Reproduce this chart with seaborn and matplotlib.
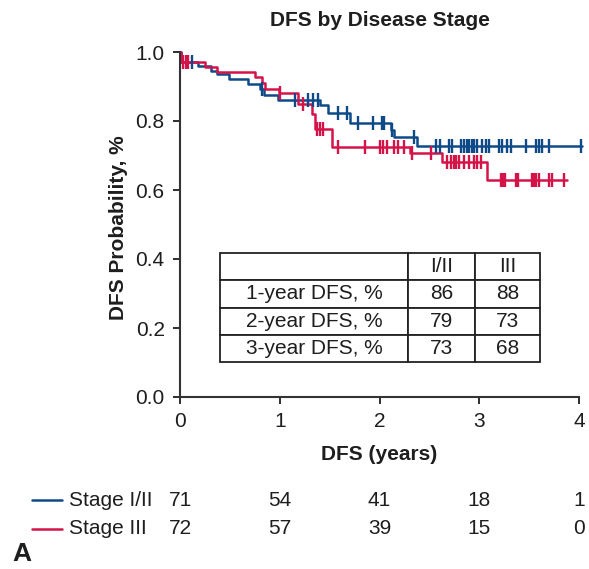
import numpy as np
import pandas as pd
import matplotlib
matplotlib.use("Agg")
import matplotlib.pyplot as plt
import seaborn as sns
from matplotlib.lines import Line2D
from matplotlib.transforms import blended_transform_factory

# ---------------- data ----------------
groups = ["Stage I/II", "Stage III"]

# step times (years) and survival level after each step
blue_times = [0.0, 0.01, 0.18, 0.31, 0.37, 0.49, 0.68, 0.80, 0.84, 0.98, 1.40, 1.48,
              1.70, 2.12, 2.15, 2.38, 4.03]
blue_surv = [1.0, 0.972, 0.960, 0.946, 0.936, 0.922, 0.908, 0.892, 0.875, 0.860, 0.846, 0.822,
             0.793, 0.774, 0.754, 0.728, 0.728]
blue_censor = [0.12, 0.82, 1.15, 1.28, 1.33, 1.38, 1.58, 1.67, 1.78, 1.93, 2.03, 2.05, 2.13,
               2.35, 2.57, 2.61, 2.70, 2.73, 2.82, 2.85, 2.88, 2.90, 2.93, 2.95, 2.98,
               3.03, 3.07, 3.10, 3.20, 3.23, 3.28, 3.32, 3.47, 3.57, 3.60, 3.63, 3.70, 4.02]

red_times = [0.0, 0.01, 0.25, 0.37, 0.75, 0.82, 0.85, 0.99, 1.18, 1.32, 1.35, 1.52,
             2.31, 2.63, 3.08, 3.88]
red_surv = [1.0, 0.972, 0.956, 0.942, 0.928, 0.910, 0.894, 0.880, 0.849, 0.820, 0.778, 0.725,
            0.706, 0.682, 0.629, 0.629]
red_censor = [0.03, 0.06, 0.08, 1.00, 1.23, 1.37, 1.40, 1.43, 1.58, 1.85, 2.00, 2.04, 2.08,
              2.15, 2.19, 2.25, 2.33, 2.52, 2.68, 2.72, 2.75, 2.77, 2.80, 2.85, 2.90, 2.95,
              2.98, 3.02, 3.22, 3.24, 3.26, 3.37, 3.39, 3.53, 3.55, 3.57, 3.60, 3.70, 3.73, 3.85]

risk_times = [0, 1, 2, 3, 4]
risk_blue = [71, 54, 41, 18, 1]
risk_red = [72, 57, 39, 15, 0]

table_cols = ["", "I/II", "III"]
table_rows = ["1-year DFS, %", "2-year DFS, %", "3-year DFS, %"]
table_blue = [86, 79, 73]
table_red = [88, 73, 68]

xticks = [0, 1, 2, 3, 4]
yticks = [0.0, 0.2, 0.4, 0.6, 0.8, 1.0]

# ---------------- style ----------------
BLUE = "#0f4a88"
RED = "#d41449"
TXT = "#1e1e1e"
sns.set_theme(style="white")
plt.rcParams["font.family"] = ["Liberation Sans", "DejaVu Sans"]
plt.rcParams["text.color"] = TXT
FS = 15

W, H = 589, 569
fig = plt.figure(figsize=(W / 100, H / 100), dpi=100)
ax = fig.add_axes([180 / W, 1 - 397 / H, 399 / W, 345 / H])

df = pd.concat([
    pd.DataFrame({"t": blue_times, "s": blue_surv, "g": groups[0]}),
    pd.DataFrame({"t": red_times, "s": red_surv, "g": groups[1]}),
])
sns.lineplot(data=df, x="t", y="s", hue="g", palette=[BLUE, RED], estimator=None,
             drawstyle="steps-post", linewidth=1.8, legend=False, ax=ax, sort=True)


def level(times, surv, c):
    idx = np.searchsorted(np.asarray(times), np.asarray(c), side="right") - 1
    return np.asarray(surv)[idx]


ax.plot(blue_censor, level(blue_times, blue_surv, blue_censor), linestyle="none",
        marker="|", markersize=10, markeredgewidth=1.7, color=BLUE)
ax.plot(red_censor, level(red_times, red_surv, red_censor), linestyle="none",
        marker="|", markersize=10, markeredgewidth=1.7, color=RED)
for ln in ax.lines:
    ln.set_clip_on(False)

ax.set_xlim(0, 4)
ax.set_ylim(0, 1)
ax.set_xticks(xticks)
ax.set_xticklabels([str(v) for v in xticks])
ax.set_yticks(yticks)
ax.set_yticklabels([f"{v:.1f}" for v in yticks])
ax.tick_params(axis="both", which="major", labelsize=FS, colors=TXT, length=5, width=1.3,
               direction="out", pad=6, bottom=True, left=True)
for side in ["top", "right"]:
    ax.spines[side].set_visible(False)
for side in ["left", "bottom"]:
    ax.spines[side].set_color("#333333")
    ax.spines[side].set_linewidth(1.5)

ax.set_xlabel("DFS (years)", fontsize=FS, fontweight="bold", color=TXT)
ax.set_ylabel("DFS Probability, %", fontsize=FS, fontweight="bold", color=TXT)
ax.xaxis.label.set_va("center")
ax.yaxis.label.set_va("center")
ax.xaxis.set_label_coords(0.5, (397 - 455) / 345)
ax.yaxis.set_label_coords((118 - 180) / 399, 0.49)

fig.text(380 / W, 1 - 20 / H, "DFS by Disease Stage", fontsize=FS, fontweight="bold",
         ha="center", va="center", color=TXT)

# inset table
cell_text = [[r, str(b), str(c)] for r, b, c in zip(table_rows, table_blue, table_red)]
tab = ax.table(cellText=[table_cols] + cell_text, cellLoc="center",
               colWidths=[188, 67, 65],
               bbox=[(220 - 180) / 399, (397 - 362) / 345, 320 / 399, 109 / 345])
tab.auto_set_font_size(False)
tab.set_fontsize(FS)
for (r, c), cell in tab.get_celld().items():
    cell.set_edgecolor("#222222")
    cell.set_linewidth(1.3)
    cell.set_facecolor("white")
    cell.get_text().set_color(TXT)

# number at risk
tr = blended_transform_factory(ax.transData, fig.transFigure)
for yy, col, name, vals in [(500, BLUE, groups[0], risk_blue), (529, RED, groups[1], risk_red)]:
    yf = 1 - yy / H
    fig.add_artist(Line2D([32 / W, 62 / W], [yf, yf], color=col, linewidth=1.8,
                          transform=fig.transFigure))
    fig.text(69 / W, yf, name, fontsize=FS, ha="left", va="center", color=TXT)
    for t, v in zip(risk_times, vals):
        fig.text(t, yf, str(v), fontsize=FS, ha="center", va="center", color=TXT, transform=tr)

fig.text(12 / W, 1 - 554 / H, "A", fontsize=19, fontweight="bold", ha="left", va="center",
         color=TXT)

fig.savefig("out.png", dpi=100)
